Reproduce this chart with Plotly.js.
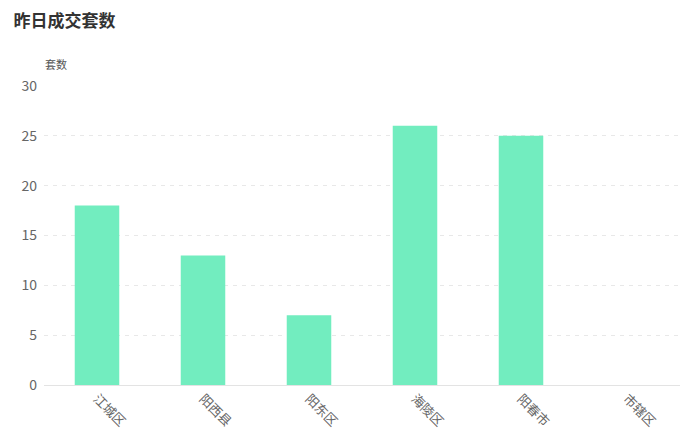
<!DOCTYPE html>
<html><head><meta charset="utf-8">
<script src="https://cdn.plot.ly/plotly-3.0.1.min.js"></script>
<style>html,body{margin:0;padding:0;background:#fff}#c{width:680px;height:443px}</style>
</head><body><div id="c"></div>
<script>
const categories = ['江城区','阳西县','阳东区','海陵区','阳春市','市辖区'];
const values = [18, 13, 7, 26, 25, 0];
const yTicks = [0, 5, 10, 15, 20, 25, 30];

const font = 'Noto Sans CJK SC, Noto Sans, sans-serif';
Plotly.newPlot('c', [{
  type: 'bar', x: categories, y: values,
  marker: {color: '#72EDBF'},
  hoverinfo: 'x+y'
}], {
  width: 680, height: 443,
  margin: {l: 44, r: 0, t: 86, b: 58},
  paper_bgcolor: '#fff', plot_bgcolor: '#fff',
  bargap: 0.58,
  font: {family: font, color: '#666', size: 12},
  title: {text: '<b>昨日成交套数</b>', x: 0.02, xanchor: 'left', y: 0.967, yanchor: 'top',
    font: {family: font, size: 17, color: '#333'}},
  xaxis: {
    type: 'category', tickangle: 45, showgrid: false, showline: true, linecolor: '#e3e3e3',
    ticks: '', tickfont: {size: 13, color: '#666'}, zeroline: false
  },
  yaxis: {
    range: [0, 30], tickvals: yTicks, showgrid: true, gridcolor: '#e8e8e8', griddash: '4px,5px',
    zeroline: false, showline: false, ticks: '', ticklen: 0, tickfont: {size: 14, color: '#666'},
    ticklabelstandoff: 6
  },
  annotations: [{text: '套数', xref: 'paper', yref: 'paper', x: 0, y: 1, xanchor: 'left', yanchor: 'bottom',
    xshift: -1, yshift: 12, showarrow: false, font: {family: font, size: 11, color: '#555'}}],
  showlegend: false
}, {displayModeBar: false, staticPlot: true});
</script></body></html>
